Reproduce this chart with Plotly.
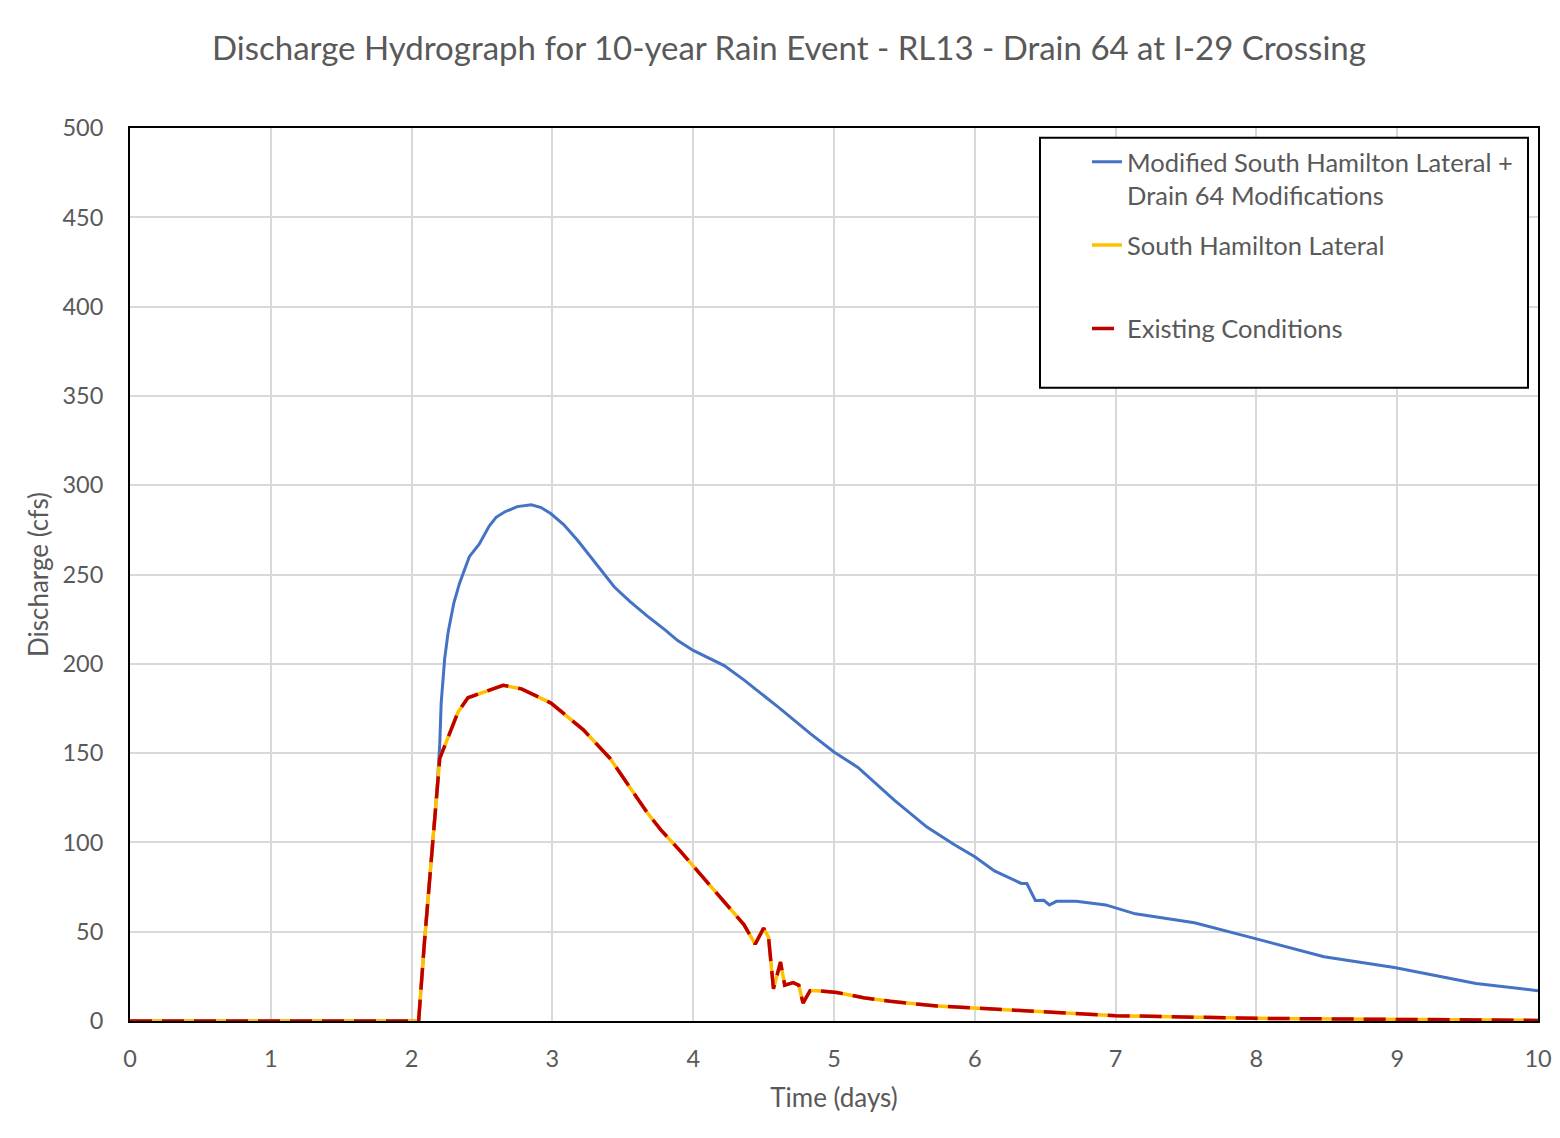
import plotly.graph_objects as go

t_mod = [0, 2.05, 2.09, 2.14, 2.18, 2.20, 2.21, 2.235, 2.26, 2.30, 2.34, 2.41, 2.48, 2.55,
         2.60, 2.66, 2.75, 2.85, 2.92, 2.99, 3.08, 3.18, 3.32, 3.44, 3.55, 3.67, 3.80, 3.89,
         4.0, 4.22, 4.36, 4.60, 4.83, 5.0, 5.17, 5.43, 5.66, 5.85, 6.0, 6.14, 6.33, 6.37,
         6.43, 6.49, 6.53, 6.58, 6.72, 6.93, 7.14, 7.56, 8.0, 8.48, 8.98, 9.56, 10]
q_mod = [0, 0, 43, 93, 129, 155, 178, 203, 218, 234, 245, 260, 267, 277,
         282, 285, 288, 289, 287.5, 284, 278, 269, 255, 243, 235, 227, 219, 213,
         207.5, 199, 191, 176, 161, 150.6, 142, 123.5, 108.6, 99, 92, 84, 77, 77,
         67.5, 67.6, 65, 67, 67, 65, 60, 55, 46, 36, 30, 21, 17]

t_ex = [0, 2.05, 2.09, 2.14, 2.18, 2.20, 2.26, 2.33, 2.40, 2.47, 2.53, 2.65, 2.78, 2.99,
        3.22, 3.41, 3.67, 3.77, 3.91, 4.02, 4.19, 4.36, 4.44, 4.50, 4.535, 4.57, 4.62,
        4.65, 4.71, 4.75, 4.78, 4.83, 4.88, 5.02, 5.21, 5.40, 5.73, 6.0, 6.5, 7.0, 8.0,
        9.0, 10]
q_ex = [0, 0, 43, 93, 129, 147, 159, 173, 181, 183, 185, 188, 186, 178,
        163, 147, 117, 107, 95, 85, 69, 54, 43, 52, 47, 18, 33,
        20, 21.5, 20, 10, 17, 17, 16, 13, 11, 8.4, 7.3, 5, 3, 1.5,
        0.8, 0.3]
# South Hamilton Lateral plots right on top of existing conditions
t_shl = t_ex
q_shl = q_ex

names = ["Modified South Hamilton Lateral +<br>Drain 64 Modifications",
         "South Hamilton Lateral<br>&nbsp;",
         "Existing Conditions"]

FONT = "Lato, 'Open Sans', sans-serif"
GREY = "#595959"

fig = go.Figure()
fig.add_trace(go.Scatter(x=t_mod, y=q_mod, mode="lines", name=names[0], legendgroup="a",
                         line=dict(color="#4472C4", width=3)))
fig.add_trace(go.Scatter(x=t_shl, y=q_shl, mode="lines", name=names[1], legendgroup="b",
                         line=dict(color="#FFC000", width=3.5)))
fig.add_trace(go.Scatter(x=t_ex, y=q_ex, mode="lines", name=names[2], legendgroup="c",
                         line=dict(color="#C00000", width=3.5, dash="22px,10px")))

# legend box
fig.add_shape(type="rect", xref="paper", yref="paper", x0=0.6463, x1=0.9929, y0=0.709, y1=0.989,
              fillcolor="white", line=dict(color="black", width=2), layer="above")

fig.update_layout(
    width=1544, height=1122,
    margin=dict(l=122, r=14, t=120, b=109, autoexpand=False),
    paper_bgcolor="white", plot_bgcolor="white",
    font=dict(family=FONT, color=GREY, size=23.5),
    title=dict(text="Discharge Hydrograph for 10-year Rain Event - RL13 - Drain 64 at I-29 Crossing",
               x=0.468, xref="paper", xanchor="center", y=0.9643, yanchor="middle",
               font=dict(size=33, color=GREY, family=FONT)),
    legend=dict(x=0.6797, y=0.988, xanchor="left", yanchor="top", bgcolor="rgba(0,0,0,0)",
                borderwidth=0, traceorder="grouped", tracegroupgap=14, valign="top",
                font=dict(size=25.5, color=GREY, family=FONT)),
    showlegend=True,
)
fig.update_xaxes(range=[0, 10], dtick=1, showgrid=True, gridcolor="#D9D9D9", gridwidth=2,
                 showline=True, linecolor="black", linewidth=2, mirror=True, zeroline=False,
                 ticks="", ticklabelstandoff=16, ticklabeloverflow="allow", automargin=False,
                 title=dict(text="Time (days)", standoff=18, font=dict(size=26, color=GREY)))
fig.update_yaxes(range=[0, 500], dtick=50, showgrid=True, gridcolor="#D9D9D9", gridwidth=2,
                 showline=True, linecolor="black", linewidth=2, mirror=True, zeroline=False,
                 ticks="", ticklabelstandoff=20, automargin=False,
                 title=dict(text="Discharge (cfs)", standoff=6, font=dict(size=26, color=GREY)))

fig.write_html("out.html")
